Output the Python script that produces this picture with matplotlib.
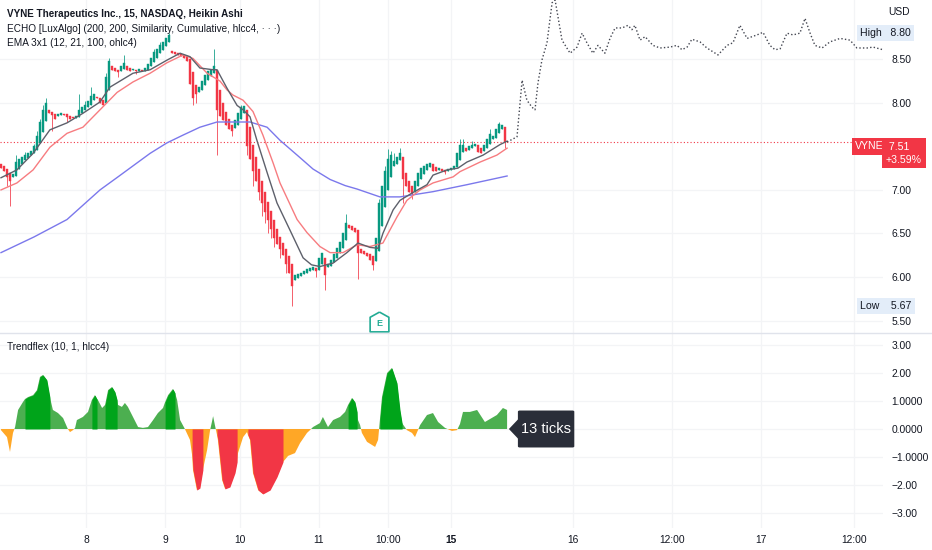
import numpy as np
import matplotlib
matplotlib.use("Agg")
import matplotlib.pyplot as plt
from matplotlib.path import Path
from matplotlib.patches import FancyBboxPatch, Polygon
from matplotlib.transforms import blended_transform_factory

plt.rcParams['font.family'] = ['Liberation Sans', 'DejaVu Sans']

# --- heikin ashi candles (15 min bars) ---
ha_open = [7.30, 7.27, 7.24, 7.20, 7.15, 7.16, 7.24, 7.30, 7.34, 7.37,
           7.40, 7.42, 7.46, 7.54, 7.66, 7.79, 7.92, 7.89, 7.87, 7.85,
           7.86, 7.87, 7.87, 7.85, 7.84, 7.83, 7.84, 7.88, 7.92, 7.95,
           7.98, 8.03, 8.07, 8.06, 8.03, 8.00, 8.15, 8.42, 8.40, 8.38,
           8.36, 8.39, 8.42, 8.40, 8.38, 8.38, 8.37, 8.38, 8.37, 8.38,
           8.42, 8.47, 8.52, 8.57, 8.61, 8.65, 8.70, 8.60, 8.58, 8.57,
           8.56, 8.55, 8.54, 8.50, 8.35, 8.20, 8.12, 8.15, 8.20, 8.26,
           8.31, 8.34, 8.38, 8.15, 8.00, 7.90, 7.82, 7.74, 7.71, 7.75,
           7.82, 7.88, 7.92, 7.72, 7.52, 7.38, 7.24, 7.10, 6.98, 6.86,
           6.76, 6.66, 6.55, 6.46, 6.39, 6.32, 6.24, 6.15, 5.96, 5.99,
           6.01, 6.03, 6.05, 6.07, 6.08, 6.10, 6.08, 6.15, 6.22, 6.12,
           6.13, 6.17, 6.22, 6.27, 6.33, 6.42, 6.60, 6.58, 6.56, 6.54,
           6.32, 6.30, 6.28, 6.26, 6.24, 6.18, 6.30, 6.58, 6.80, 7.00,
           7.15, 7.28, 7.30, 7.34, 7.38, 7.20, 7.10, 7.04, 6.98, 7.04,
           7.12, 7.18, 7.23, 7.26, 7.30, 7.26, 7.23, 7.24, 7.23, 7.22,
           7.23, 7.24, 7.26, 7.34, 7.43, 7.48, 7.46, 7.48, 7.50, 7.52,
           7.48, 7.45, 7.48, 7.53, 7.58, 7.60, 7.65, 7.70, 7.72]
ha_close = [7.25, 7.22, 7.15, 7.10, 7.18, 7.32, 7.36, 7.38, 7.40, 7.42,
            7.45, 7.50, 7.62, 7.78, 7.92, 8.00, 7.88, 7.86, 7.82, 7.87,
            7.88, 7.86, 7.84, 7.82, 7.83, 7.85, 7.92, 7.95, 7.98, 8.02,
            8.08, 8.10, 8.05, 8.00, 7.98, 8.30, 8.48, 8.38, 8.36, 8.35,
            8.42, 8.46, 8.38, 8.37, 8.39, 8.37, 8.39, 8.37, 8.40, 8.45,
            8.52, 8.58, 8.62, 8.66, 8.70, 8.75, 8.78, 8.57, 8.56, 8.55,
            8.54, 8.52, 8.48, 8.22, 8.05, 8.10, 8.18, 8.25, 8.32, 8.36,
            8.38, 8.42, 7.92, 7.85, 7.80, 7.75, 7.70, 7.68, 7.80, 7.88,
            7.95, 7.96, 7.50, 7.35, 7.22, 7.10, 6.98, 6.85, 6.75, 6.65,
            6.55, 6.45, 6.38, 6.32, 6.25, 6.15, 6.05, 5.90, 6.02, 6.03,
            6.05, 6.07, 6.09, 6.10, 6.12, 6.07, 6.22, 6.28, 6.02, 6.15,
            6.20, 6.26, 6.33, 6.40, 6.50, 6.62, 6.56, 6.54, 6.52, 6.28,
            6.28, 6.26, 6.24, 6.20, 6.14, 6.45, 6.85, 7.05, 7.22, 7.35,
            7.40, 7.33, 7.38, 7.42, 7.12, 7.05, 6.98, 6.95, 7.10, 7.20,
            7.25, 7.28, 7.30, 7.31, 7.22, 7.22, 7.25, 7.22, 7.21, 7.24,
            7.25, 7.27, 7.42, 7.52, 7.52, 7.45, 7.50, 7.52, 7.53, 7.44,
            7.42, 7.52, 7.58, 7.64, 7.62, 7.70, 7.76, 7.74, 7.55]
wick_high = {5: 7.40, 8: 7.44, 11: 7.53, 12: 7.68, 13: 7.82, 14: 7.98, 15: 8.05,
             26: 8.10, 28: 8.02, 30: 8.18, 35: 8.34, 36: 8.52, 41: 8.55, 51: 8.62,
             53: 8.70, 56: 8.80, 71: 8.62, 80: 7.98, 115: 6.72, 126: 6.90,
             128: 7.28, 129: 7.47, 130: 7.45, 131: 7.42, 133: 7.48, 153: 7.58,
             154: 7.58, 157: 7.56, 163: 7.70, 166: 7.78}
wick_low = {2: 7.05, 3: 6.82, 17: 7.68, 22: 7.78, 39: 8.30, 45: 8.33, 64: 7.98,
            65: 8.00, 72: 7.40, 77: 7.62, 82: 7.40, 84: 7.05, 86: 6.88, 87: 6.70,
            88: 6.62, 89: 6.50, 90: 6.45, 91: 6.35, 93: 6.22, 95: 6.05, 97: 5.67,
            105: 6.00, 108: 5.85, 119: 5.98, 124: 6.08, 134: 6.85, 137: 6.90,
            148: 7.18, 168: 7.48}

# --- EMA 3x1 lines (bar index, price) ---
ema12_x = [0, 5.3, 10.7, 16.3, 22, 27.3, 33, 36.3, 44, 49.7, 55.3, 59.7, 63, 66.3,
           70.7, 72, 75.3, 78.7, 80.7, 83, 85.3, 88.7, 92, 96.3, 100.7, 103.5,
           106.3, 110.7, 115.3, 119, 123, 125.7, 127.3, 130.7, 133, 137.3, 142,
           144, 148.7, 152.3, 155.3, 160.7, 166.3, 168.7]
ema12_y = [7.14, 7.23, 7.42, 7.69, 7.77, 7.88, 8.01, 8.18, 8.34, 8.38, 8.49, 8.57,
           8.53, 8.40, 8.38, 8.38, 8.17, 7.97, 7.92, 7.84, 7.57, 7.20, 6.85, 6.54,
           6.22, 6.14, 6.12, 6.16, 6.28, 6.39, 6.34, 6.33, 6.50, 6.77, 6.88, 6.97,
           7.06, 7.17, 7.23, 7.25, 7.32, 7.40, 7.52, 7.56]
ema21_x = [0, 5.3, 10.7, 16.3, 22, 27.3, 33, 38.7, 44, 49.7, 55.3, 60.7, 64, 68.7,
           73, 75.3, 77.3, 80.7, 84, 87.3, 90.7, 93, 98.7, 102, 106.3, 109.7, 114,
           118.7, 123, 127.3, 132, 135.3, 139.7, 144, 150.7, 153, 159.7, 165.3, 168.7]
ema21_y = [7.00, 7.08, 7.23, 7.49, 7.65, 7.72, 7.92, 8.12, 8.24, 8.34, 8.46, 8.55,
           8.51, 8.34, 8.25, 8.15, 8.09, 8.03, 7.90, 7.63, 7.31, 7.08, 6.66, 6.51,
           6.35, 6.28, 6.28, 6.37, 6.35, 6.39, 6.69, 6.88, 7.00, 7.08, 7.15, 7.21,
           7.32, 7.40, 7.48]
ema100_x = [0, 11, 22, 33, 39, 49.7, 55.3, 60.7, 66.3, 72, 83, 88.7, 93, 99.7,
            104, 109.7, 114.7, 118.7, 126.3, 133, 144, 155.3, 168.7]
ema100_y = [6.28, 6.46, 6.66, 7.00, 7.15, 7.42, 7.54, 7.63, 7.72, 7.78, 7.78, 7.72,
            7.57, 7.37, 7.24, 7.12, 7.05, 7.01, 6.92, 6.92, 6.98, 7.06, 7.16]

# --- ECHO projection (dotted) ---
echo_x = [168.7, 172, 173.7, 175.3, 177, 178, 179, 180.3, 182, 183.7, 184.7, 187,
          189.7, 192, 193.7, 195.3, 197.3, 199, 201.3, 203, 204.7, 207, 209, 210.3,
          211.3, 213, 214.7, 217.3, 219.7, 223, 225.3, 227, 228.7, 230.3, 233, 235.3,
          239, 242, 244, 246.3, 248.7, 252, 254, 256.3, 258, 259.7, 262, 264, 266.3,
          268, 269.7, 271.3, 273.7, 276.3, 279.7, 283, 285.3, 288.7, 290.7, 294]
echo_y = [7.55, 7.61, 8.26, 8.03, 7.95, 7.92, 8.23, 8.49, 8.69, 9.15, 9.18, 8.72,
          8.57, 8.64, 8.80, 8.69, 8.57, 8.66, 8.57, 8.74, 8.86, 8.86, 8.89, 8.84,
          8.89, 8.72, 8.76, 8.66, 8.63, 8.64, 8.66, 8.61, 8.64, 8.73, 8.70, 8.63,
          8.55, 8.66, 8.69, 8.89, 8.74, 8.78, 8.81, 8.66, 8.61, 8.62, 8.80, 8.78,
          8.80, 8.97, 8.80, 8.66, 8.63, 8.70, 8.74, 8.72, 8.63, 8.63, 8.64, 8.61]

# --- Trendflex (10, 1, hlcc4) ---
tf_x = [0, 2.0, 3.0, 4.0, 4.7, 5.7, 7.3, 8.0, 9.0, 10.7, 12.0, 13.0, 14.0, 15.3,
        16.3, 17.3, 19.0, 20.7, 22.0, 22.3, 23.0, 24.0, 24.7, 25.3, 27.3, 29.0,
        30.3, 31.3, 32.0, 32.3, 33.7, 34.7, 35.7, 37.0, 38.0, 38.7, 39.0, 40.3,
        41.3, 42.3, 44.0, 45.7, 47.3, 49.0, 50.7, 52.3, 54.0, 54.7, 55.7, 57.3,
        58.0, 58.7, 59.7, 61.3, 63.0, 63.7, 64.0, 65.3, 66.3, 67.3, 68.7, 69.7,
        70.3, 70.7, 71.3, 72.0, 72.3, 73.7, 74.7, 76.3, 78.0, 78.7, 79.0, 80.7,
        82.0, 82.3, 83.0, 84.0, 85.7, 87.3, 89.7, 92.0, 94.0, 95.7, 98.0, 99.7,
        102.0, 103.0, 104.0, 106.3, 107.3, 109.0, 110.7, 113.0, 114.7, 115.7,
        117.0, 118.0, 118.7, 119.0, 119.7, 120.3, 122.0, 124.7, 125.7, 126.3,
        127.0, 128.7, 130.3, 132.0, 133.0, 133.7, 135.3, 137.0, 138.0, 139.7,
        142.0, 144.0, 145.7, 148.0, 150.3, 152.0, 153.0, 154.0, 156.3, 158.7,
        161.3, 165.3, 167.3, 168.7]
tf_v = [-0.04, -0.29, -0.82, -0.14, 0.07, 0.68, 0.96, 1.07, 1.14, 1.21, 1.39, 1.86,
        1.93, 1.75, 1.14, 0.68, 0.57, 0.39, 0.07, 0.0, -0.11, -0.04, 0.04, 0.32,
        0.43, 0.61, 1.04, 1.21, 1.07, 1.04, 0.75, 0.86, 1.39, 1.50, 1.32, 1.04,
        0.86, 0.79, 0.93, 0.79, 0.43, 0.07, 0.04, 0.07, 0.32, 0.57, 0.75, 0.96,
        1.21, 1.43, 1.29, 1.04, 0.32, 0.0, -0.39, -0.93, -1.46, -2.18, -2.11,
        -1.46, -0.75, -0.04, 0.25, 0.46, 0.14, -0.21, -0.39, -1.82, -2.14, -2.07,
        -1.57, -1.18, -0.86, -0.29, -0.11, -0.21, -0.39, -1.57, -2.18, -2.32,
        -2.18, -1.71, -1.18, -0.96, -0.86, -0.50, -0.14, -0.04, 0.07, 0.21, 0.43,
        0.07, 0.32, 0.43, 0.61, 0.86, 1.11, 0.96, 0.61, 0.32, 0.14, -0.14, -0.46,
        -0.64, -0.39, 0.32, 1.14, 2.00, 2.18, 1.64, 0.68, 0.21, -0.04, -0.14,
        -0.29, 0.14, 0.50, 0.57, 0.25, 0.04, -0.07, -0.04, 0.18, 0.61, 0.61, 0.68,
        0.25, 0.50, 0.75, 0.68]
strong_up = [(8.0, 16.3), (30.3, 32.0), (34.7, 38.7), (54.7, 58.0), (115.7, 118.7),
             (126.3, 133.7)]
strong_down = [(63.7, 67.3), (72.0, 78.7), (82.3, 94.0)]

tick_pos = [28.3, 54.7, 79.7, 106, 129, 150, 190.7, 223.7, 253.3, 284.3]
tick_lab = ['8', '9', '10', '11', '10:00', '15', '16', '12:00', '17', '12:00']
price_ticks = [5.5, 6.0, 6.5, 7.0, 8.0, 8.5]
tf_ticks = [3, 2, 1, 0, -1, -2, -3]
tf_tick_lab = ['3.00', '2.00', '1.0000', '0.0000', '\u22121.0000', '\u22122.00', '\u22123.00']

day_high, day_low = 8.80, 5.67
last_label = '7.51'
change_label = '+3.59%'
earnings_bar = 126

GREEN = '#089981'
RED = '#f23645'
TXT = '#131722'
GRID = '#f3f4f6'

W, H = 932, 550
fig = plt.figure(figsize=(W / 100, H / 100), dpi=100)
ax = fig.add_axes([0, 1 - 333 / H, 883 / W, 333 / H])
ax2 = fig.add_axes([0, 1 - 528 / H, 883 / W, (528 - 333) / H])

for a in (ax, ax2):
    for s in a.spines.values():
        s.set_visible(False)
    a.set_xlim(-1 / 3, 294)
    a.set_xticks(tick_pos)
    a.grid(True, color=GRID, lw=0.9)
    a.set_axisbelow(True)
    a.yaxis.tick_right()
    a.tick_params(axis='both', length=0, labelsize=7.4, labelcolor=TXT)
    a.tick_params(axis='y', pad=6)

# main pane
ax.set_ylim(5.357, 9.181)
ax.set_yticks(price_ticks, ['%.2f' % p for p in price_ticks])
ax.set_xticklabels([])

o = np.array(ha_open)
c = np.array(ha_close)
idx = np.arange(len(o))
cols = np.where(c >= o, GREEN, RED)
hi = [wick_high.get(i, max(o[i], c[i])) for i in idx]
lo = [wick_low.get(i, min(o[i], c[i])) for i in idx]
ax.vlines(idx, lo, hi, colors=cols, lw=0.7, alpha=0.8, zorder=3)
ax.bar(idx, c - o, bottom=o, width=0.66, color=cols, edgecolor=cols, lw=0.3, zorder=3)

ax.plot(ema100_x, ema100_y, color='#7b78ec', lw=1.0, zorder=4)
ax.plot(ema21_x, ema21_y, color='#f77c80', lw=1.0, zorder=4)
ax.plot(ema12_x, ema12_y, color='#5d606b', lw=1.0, zorder=4)
ax.plot(echo_x, echo_y, color='#434651', lw=1.0, ls=(0, (1, 1.6)), zorder=4)

ax.axhline(c[-1], color=RED, lw=0.8, ls=(0, (1, 2)), zorder=2)

# earnings marker
shield = Path([(0, 1), (0.9, 0.5), (0.9, -0.9), (-0.9, -0.9), (-0.9, 0.5), (0, 1)])
etr = blended_transform_factory(ax.transData, ax.transAxes)
ax.plot([earnings_bar], [0.034], marker=shield, ms=15, mfc='white', mec='#22ab94',
        mew=1.2, transform=etr, clip_on=False, zorder=6)
ax.text(earnings_bar, 0.029, 'E', transform=etr, ha='center', va='center',
        fontsize=6.5, color='#22ab94', weight='bold', zorder=7)

# right side price labels
rtr = blended_transform_factory(fig.transFigure, ax.transData)
ax.text(860 / W, day_high, 'High   %.2f' % day_high, transform=rtr, fontsize=7.6,
        color=TXT, va='center', ha='left', clip_on=False,
        bbox=dict(boxstyle='square,pad=0.3', fc='#e3edf9', ec='none'))
ax.text(860 / W, day_low, 'Low    %.2f' % day_low, transform=rtr, fontsize=7.6,
        color=TXT, va='center', ha='left', clip_on=False,
        bbox=dict(boxstyle='square,pad=0.3', fc='#e3edf9', ec='none'))
ax.text(855 / W, 7.50, 'VYNE', transform=rtr, fontsize=7.6, color='white',
        va='center', ha='left', clip_on=False,
        bbox=dict(boxstyle='square,pad=0.3', fc=RED, ec='none'))
ax.text(886 / W, 7.42, ' ' + last_label + '\n' + change_label, transform=rtr,
        fontsize=7.6, color='white', va='center', ha='left', linespacing=1.3,
        clip_on=False, bbox=dict(boxstyle='square,pad=0.35', fc=RED, ec='none'))
fig.text(888 / W, 1 - 12 / H, 'USD', fontsize=7.4, color=TXT, va='center')

# legends
fig.text(7 / W, 1 - 14 / H, 'VYNE Therapeutics Inc., 15, NASDAQ, Heikin Ashi',
         fontsize=7.1, weight='bold', color=TXT, va='center')
fig.text(7 / W, 1 - 28.5 / H,
         'ECHO [LuxAlgo] (200, 200, Similarity, Cumulative, hlcc4, \u00b7 \u00b7 \u00b7)',
         fontsize=7.2, color=TXT, va='center')
fig.text(7 / W, 1 - 43 / H, 'EMA 3x1 (12, 21, 100, ohlc4)', fontsize=7.2,
         color=TXT, va='center')
fig.text(7 / W, 1 - 347 / H, 'Trendflex (10, 1, hlcc4)', fontsize=7.2,
         color=TXT, va='center')

# pane separator
fig.add_artist(plt.Line2D([0, 1], [1 - 333 / H, 1 - 333 / H], color='#e0e3eb',
                          lw=1.0, transform=fig.transFigure))

# trendflex pane
ax2.set_ylim(-3.536, 3.429)
ax2.set_yticks(tf_ticks, tf_tick_lab)
ax2.set_xticklabels(tick_lab)
ax2.tick_params(axis='x', pad=5)
ax2.get_xticklabels()[5].set_fontweight('bold')

x = np.array(tf_x)
v = np.array(tf_v)
ax2.fill_between(x, 0, v, where=v >= 0, interpolate=True, color='#4caf50', lw=0)
ax2.fill_between(x, 0, v, where=v <= 0, interpolate=True, color='#ffa726', lw=0)
for a0, a1 in strong_up:
    m = (x >= a0 - 1e-6) & (x <= a1 + 1e-6)
    ax2.fill_between(x[m], 0, v[m], color='#00a41a', lw=0)
for a0, a1 in strong_down:
    m = (x >= a0 - 1e-6) & (x <= a1 + 1e-6)
    ax2.fill_between(x[m], 0, v[m], color=RED, lw=0)

# "13 ticks" tooltip anchored at the last trendflex bar
tip = tf_x[-1]
ax2.add_patch(FancyBboxPatch((tip + 3.6, -0.66), 18.8, 1.32,
                             boxstyle='round,pad=0,rounding_size=0.6',
                             mutation_aspect=0.07, fc='#2a2e39', ec='none',
                             zorder=8, clip_on=False))
ax2.add_patch(Polygon([(tip + 0.6, 0), (tip + 3.7, 0.35), (tip + 3.7, -0.35)],
                      closed=True, fc='#2a2e39', ec='none', zorder=8))
ax2.text(tip + 13.0, 0, '13 ticks', ha='center', va='center', color='white',
         fontsize=10.5, zorder=9)

fig.savefig('out.png', dpi=100, facecolor='white')
